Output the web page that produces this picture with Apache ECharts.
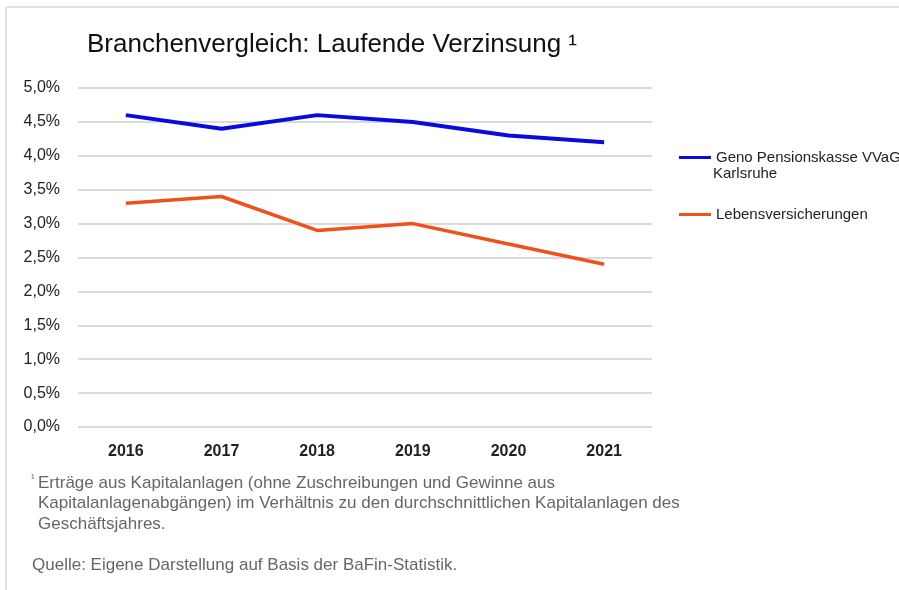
<!DOCTYPE html>
<html><head><meta charset="utf-8">
<script src="https://cdn.jsdelivr.net/npm/echarts@6/dist/echarts.min.js"></script>
<style>html,body{margin:0;padding:0;background:#fff}#c{width:899px;height:590px}</style>
</head><body><div id="c"></div>
<script>
const categories = ['2016','2017','2018','2019','2020','2021'];
const genoValues = [4.6, 4.4, 4.6, 4.5, 4.3, 4.2];
const lebenValues = [3.3, 3.4, 2.9, 3.0, 2.7, 2.4];
const genoName = 'Geno Pensionskasse VVaG';
const lebenName = 'Lebensversicherungen';
const font = 'Liberation Sans, Arial, sans-serif';

const chart = echarts.init(document.getElementById('c'));
chart.setOption({
  animation: false,
  title: {
    text: 'Branchenvergleich: Laufende Verzinsung \u00B9',
    left: 82, top: 27,
    textStyle: {fontFamily: font, fontSize: 26, fontWeight: 'normal', color: '#111'}
  },
  legend: [{
    data: [genoName], orient: 'vertical', left: 674, top: 145,
    icon: 'rect', itemWidth: 32, itemHeight: 3,
    textStyle: {fontFamily: font, fontSize: 15, color: '#222'}
  },{
    data: [lebenName], orient: 'vertical', left: 674, top: 202,
    icon: 'rect', itemWidth: 32, itemHeight: 3,
    textStyle: {fontFamily: font, fontSize: 15, color: '#222'}
  }],
  grid: {left: 78, right: 247, top: 88, bottom: 163, containLabel: false},
  xAxis: {
    type: 'category', data: categories, boundaryGap: true,
    axisLine: {show: false}, axisTick: {show: false},
    axisLabel: {fontFamily: font, fontSize: 16, fontWeight: 'bold', color: '#222', margin: 17}
  },
  yAxis: {
    type: 'value', min: 0, max: 5, interval: 0.5,
    axisLine: {show: false}, axisTick: {show: false},
    axisLabel: {fontFamily: font, fontSize: 16, color: '#222', margin: 18,
      formatter: v => v.toFixed(1).replace('.', ',') + '%'},
    splitLine: {lineStyle: {color: '#cfcfcf', width: 1.5}}
  },
  series: [{
    name: genoName, type: 'line', data: genoValues, symbol: 'none',
    lineStyle: {color: '#0a0ae0', width: 4}, itemStyle: {color: '#0a0ae0'}
  },{
    name: lebenName, type: 'line', data: lebenValues, symbol: 'none',
    lineStyle: {color: '#f2501a', width: 3.5}, itemStyle: {color: '#f2501a'}
  }],
  graphic: [
    {type: 'line', shape: {x1: 7, y1: 7, x2: 899, y2: 7}, style: {stroke: '#d8d8d8', lineWidth: 1.5}},
    {type: 'line', shape: {x1: 6, y1: 7, x2: 6, y2: 590}, style: {stroke: '#d8d8d8', lineWidth: 1.5}},
    {type: 'text', left: 713, top: 166, style: {text: 'Karlsruhe', font: '15px ' + font, fill: '#222'}},
    {type: 'text', left: 31, top: 473, style: {
      text: '\u00B9', font: '11px ' + font, fill: '#666'}},
    {type: 'text', left: 38, top: 473, style: {
      text: 'Erträge aus Kapitalanlagen (ohne Zuschreibungen und Gewinne aus\nKapitalanlagenabgängen) im Verhältnis zu den durchschnittlichen Kapitalanlagen des\nGeschäftsjahres.',
      font: '17px ' + font, fill: '#666', lineHeight: 20.5}},
    {type: 'text', left: 32, top: 557, style: {
      text: 'Quelle: Eigene Darstellung auf Basis der BaFin-Statistik.',
      font: '17px ' + font, fill: '#666'}}
  ]
});
</script></body></html>
